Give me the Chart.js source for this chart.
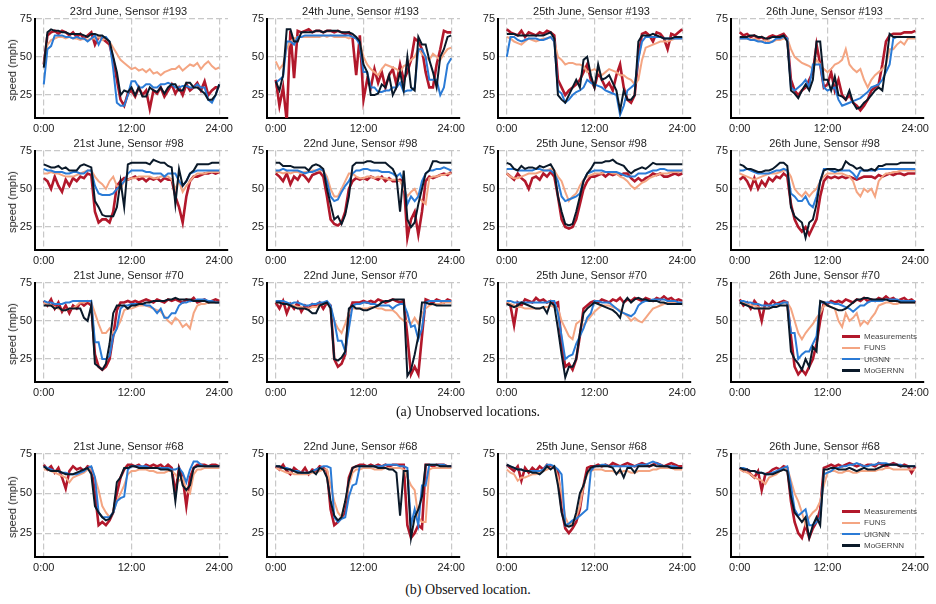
<!DOCTYPE html>
<html>
<head>
<meta charset="utf-8">
<script src="https://cdn.jsdelivr.net/npm/chart.js@4.4.1/dist/chart.umd.min.js"></script>
<style>
  body { margin: 0; background: #fff; width: 936px; height: 604px; position: relative; overflow: hidden;
         font-family: "Liberation Sans", Arial, sans-serif; }
  canvas { position: absolute; }
  .title { position: absolute; font-size: 11px; color: #222; white-space: nowrap; transform: translate(-50%, -50%); }
  .ylab { position: absolute; font-size: 11px; color: #222; white-space: nowrap; transform: translate(-50%, -50%) rotate(-90deg); }
  .caption { position: absolute; font-family: "Liberation Serif", "Times New Roman", serif; font-size: 14px; color: #111;
             white-space: nowrap; transform: translate(-50%, -50%); }
  .legend { position: absolute; font-size: 8px; color: #444; }
  .legend div { height: 11.3px; display: flex; align-items: center; }
  .legend .sw { display: inline-block; width: 18px; height: 2.5px; margin-right: 4px; }
</style>
</head>
<body>
<script>
// sample times, every 30 min
const hours = Array.from({ length: 49 }, (_, i) => i / 2);
const xTicks = [0, 12, 24];
const xTickLabels = ['0:00', '12:00', '24:00'];
const yTicks = [25, 50, 75];

const seriesNames = ['Measurements', 'FUNS', 'UIGNN', 'MoGERNN'];

const panelTitles = [
  '23rd June, Sensor #193', '24th June, Sensor #193', '25th June, Sensor #193', '26th June, Sensor #193',
  '21st June, Sensor #98', '22nd June, Sensor #98', '25th June, Sensor #98', '26th June, Sensor #98',
  '21st June, Sensor #70', '22nd June, Sensor #70', '25th June, Sensor #70', '26th June, Sensor #70',
  '21st June, Sensor #68', '22nd June, Sensor #68', '25th June, Sensor #68', '26th June, Sensor #68'
];

// ---- row 1: sensor #193 ----
const r1c1Meas = [45,64,66,67,65,67,66,64,66,63,65,62, 64,66,58,63,62,60,58,48,35,22,18,26, 28,24,30,25,28,16,28,26,30,24,28,32, 26,30,25,32,28,30,33,28,34,25,28,30,30];
const r1c1Funs = [45,58,61,62,63,63,62,63,62,62,61,62, 61,62,62,63,61,62,60,56,52,48,46,44, 42,43,41,42,40,42,39,40,38,40,41,42, 42,44,41,43,45,44,46,42,45,47,44,42,43];
const r1c1Uig = [32,55,57,64,64,64,63,63,62,63,62,62, 60,62,64,58,63,63,60,42,20,18,18,25, 34,34,30,30,32,32,30,30,32,32,33,32, 30,30,31,31,30,30,32,30,30,22,20,25,32];
const r1c1Mog = [43,66,68,67,67,66,66,65,65,65,65,64, 63,65,65,64,64,62,60,50,40,25,28,27, 30,25,30,24,24,30,28,27,30,26,30,32, 32,28,28,33,33,30,30,28,26,22,22,25,32];

const r1c2Meas = [35,18,30,8,67,36,67,66,67,68,66,67, 67,66,67,67,66,67,66,65,66,62,38,64, 22,35,30,42,33,40,30,38,42,32,45,35, 40,48,62,60,55,40,30,30,45,55,67,66,66];
const r1c2Funs = [47,42,45,55,60,62,63,63,63,63,63,63, 63,64,63,64,63,63,63,63,62,63,62,60, 50,45,42,40,38,42,45,44,43,42,40,44, 45,48,50,55,52,50,48,52,50,48,52,55,56];
const r1c2Uig = [33,35,37,60,60,58,63,63,64,64,64,64, 64,64,64,64,64,64,64,64,64,63,62,58, 40,40,30,30,27,27,28,28,30,30,33,27, 28,28,30,55,55,50,35,35,35,25,30,45,49];
const r1c2Mog = [34,28,38,68,68,60,60,66,66,66,66,67, 67,66,67,67,67,67,66,66,66,65,63,60, 45,40,25,25,26,32,30,38,25,30,40,28, 50,30,28,63,58,58,48,40,30,50,55,63,64];

const r1c3Meas = [68,66,65,64,67,63,66,65,64,66,65,67, 66,64,35,30,25,28,30,32,35,40,45,35, 30,40,35,30,33,28,38,45,30,22,20,25, 50,65,66,64,60,66,65,62,55,65,64,66,68];
const r1c3Funs = [63,62,60,59,58,60,62,61,60,61,62,62, 63,60,50,48,45,46,46,45,45,44,40,41, 42,40,38,40,42,41,40,38,38,36,35,32, 35,48,56,57,58,59,60,60,60,61,62,62,62];
const r1c3Uig = [50,63,63,61,60,61,62,62,62,61,61,62, 63,60,28,26,20,22,25,27,28,30,35,33, 32,31,30,28,27,26,25,12,18,28,30,32, 48,60,63,63,63,63,63,62,62,62,62,62,62];
const r1c3Mog = [65,65,65,64,64,64,64,64,64,64,64,65, 66,62,25,22,20,25,30,35,30,48,50,38, 30,45,35,36,38,33,28,15,28,22,22,25, 60,64,64,64,65,64,63,62,62,62,63,63,63];

const r1c4Meas = [66,64,65,63,64,62,63,61,63,64,63,64, 65,62,35,28,25,28,30,35,40,58,45,30, 32,40,28,35,25,22,25,20,18,15,18,22, 28,30,32,45,60,64,65,65,65,66,66,66,67];
const r1c4Funs = [62,62,62,61,62,61,60,61,60,60,61,61, 62,62,55,50,48,46,45,44,42,48,45,42, 40,42,45,46,48,55,45,42,40,42,35,30, 35,38,40,42,45,55,55,58,60,58,62,62,62];
const r1c4Uig = [62,62,62,61,61,60,60,59,59,60,62,62, 63,62,30,28,30,32,35,30,45,45,45,30, 28,29,30,22,18,19,20,21,22,23,25,27, 30,31,32,35,40,45,62,63,63,63,63,63,63];
const r1c4Mog = [63,63,63,64,64,63,63,62,62,63,63,63, 64,60,28,26,23,28,32,28,35,60,60,35, 35,28,37,25,24,22,28,20,16,17,20,22, 25,28,30,28,45,65,63,63,63,63,63,63,63];

// ---- row 2: sensor #98 ----
const r2c1Meas = [57,55,50,58,52,48,56,52,57,55,58,57, 60,59,35,28,30,30,28,35,52,55,57,56, 57,58,56,57,55,57,56,57,55,57,56,56, 45,38,28,45,55,58,58,59,60,60,61,60,61];
const r2c1Funs = [60,60,61,60,60,59,58,58,58,59,60,61, 62,62,58,55,53,50,55,58,52,50,55,56, 57,57,58,58,58,58,57,57,58,58,58,56, 50,55,48,52,55,58,60,60,60,61,61,61,61];
const r2c1Uig = [63,62,62,61,61,61,60,60,61,61,60,60, 62,62,52,47,46,46,46,47,50,52,55,60, 62,62,62,62,61,61,60,60,60,58,60,60, 60,55,52,55,60,61,62,62,62,62,62,62,62];
const r2c1Mog = [66,65,64,64,65,63,64,62,62,62,65,66, 65,64,42,38,33,32,32,32,38,55,38,66, 67,67,67,67,67,66,69,68,67,67,65,64, 40,63,52,55,60,62,66,66,66,66,67,67,67];

const r2c2Meas = [60,58,55,60,53,58,56,60,58,55,59,60, 61,58,45,30,27,26,28,35,50,55,57,56, 57,56,58,57,56,58,55,57,55,55,56,55, 18,30,35,20,35,55,58,57,58,59,60,59,61];
const r2c2Funs = [61,61,60,61,60,61,61,60,61,61,62,62, 62,62,58,50,45,45,50,55,60,60,58,57, 57,58,58,57,58,57,57,56,56,56,55,50, 45,48,50,45,42,40,57,58,58,59,59,60,60];
const r2c2Uig = [62,62,63,62,62,62,62,61,60,61,61,62, 63,62,55,45,42,43,48,52,55,60,62,62, 63,63,62,62,62,61,61,61,60,58,60,55, 40,45,42,45,55,60,62,62,63,63,64,63,62];
const r2c2Mog = [67,67,65,65,65,64,64,64,64,62,65,66, 65,63,50,40,30,32,27,33,45,65,67,67, 67,68,68,67,67,67,67,65,63,58,35,62, 30,25,28,40,50,60,62,68,68,67,67,67,67];

const r2c3Meas = [60,58,56,60,57,55,50,57,58,56,60,58, 61,58,45,30,25,24,25,30,40,50,55,58, 58,59,60,58,60,59,60,59,60,60,57,55, 57,55,57,58,60,59,60,58,58,59,60,59,60];
const r2c3Funs = [60,58,57,57,58,59,60,60,60,61,62,62, 63,62,58,55,48,42,45,47,52,56,58,59, 60,60,60,61,61,60,60,58,57,55,52,50, 52,54,55,57,58,59,60,60,60,61,61,61,62];
const r2c3Uig = [63,63,63,62,62,62,62,62,63,63,62,62, 62,60,55,45,42,43,44,45,47,55,60,61, 62,62,62,61,61,61,61,60,59,58,58,58, 60,60,60,61,62,62,63,63,62,62,62,62,62];
const r2c3Mog = [67,66,63,62,65,63,64,64,63,65,64,65, 66,62,45,35,27,26,27,35,45,55,60,63, 67,67,67,68,68,69,67,66,65,62,60,62, 63,64,63,65,67,66,66,66,66,66,66,66,66];

const r2c4Meas = [56,58,55,50,57,50,55,52,57,55,58,57, 60,58,40,30,25,22,25,20,25,30,45,55, 58,57,58,57,58,57,58,57,56,57,58,58, 58,57,59,58,59,60,59,60,60,59,60,60,60];
const r2c4Funs = [60,59,58,57,56,57,58,59,60,60,60,61, 62,62,58,50,47,45,48,45,48,50,55,58, 60,60,60,60,60,59,58,55,48,45,50,48, 50,45,55,58,60,60,61,61,62,62,62,62,62];
const r2c4Uig = [62,62,63,62,61,60,60,60,60,61,62,62, 63,62,47,45,42,42,45,40,38,45,55,63, 63,62,61,62,62,62,62,60,57,62,62,62, 62,62,63,63,63,63,63,63,63,63,63,63,63];
const r2c4Mog = [66,65,63,63,62,61,61,62,62,63,65,67, 67,65,38,32,30,28,18,28,30,40,55,62, 63,63,63,62,63,68,66,65,63,64,62,62, 63,62,65,65,66,66,66,66,67,67,67,67,67];

// ---- row 3: sensor #70 ----
const r3c1Meas = [63,60,64,58,62,56,60,55,60,58,62,60, 62,60,28,20,18,20,25,40,57,62,62,63, 62,63,62,63,64,63,62,64,63,62,64,63, 64,63,62,64,63,65,62,63,64,62,63,64,63];
const r3c1Funs = [62,61,60,59,58,57,57,58,58,60,62,62, 63,62,55,48,42,42,45,42,45,50,57,58, 58,59,60,60,60,59,58,57,56,53,50,48, 52,50,46,48,45,55,60,61,61,62,62,62,62];
const r3c1Uig = [63,62,62,61,61,61,62,62,63,63,63,63, 63,63,36,36,25,25,27,40,45,58,60,60, 61,61,61,61,60,60,58,55,58,52,52,55, 55,60,62,62,63,63,64,64,64,63,63,62,62];
const r3c1Mog = [60,60,60,58,59,57,57,58,58,58,58,52, 50,60,22,20,18,22,35,55,60,60,60,58, 60,60,61,61,62,62,63,63,63,63,64,64, 65,64,64,64,64,63,63,63,63,62,62,62,62];

const r3c2Meas = [62,58,63,55,61,58,62,56,60,58,61,60, 62,58,62,60,25,20,22,28,55,62,62,62, 63,62,63,62,64,63,62,63,64,63,62,63, 40,15,20,15,40,64,63,62,64,63,62,64,63];
const r3c2Funs = [62,62,61,61,60,60,59,59,58,58,59,59, 60,61,62,58,50,45,42,48,55,58,58,58, 58,58,59,59,58,58,57,57,57,55,52,50, 50,48,52,48,55,58,60,61,61,61,62,62,62];
const r3c2Uig = [63,63,63,62,61,62,62,61,60,60,61,61, 62,62,63,60,50,37,37,30,45,60,61,61, 62,62,61,61,60,60,60,60,58,60,61,61, 55,46,47,38,45,62,63,63,63,63,63,63,63];
const r3c2Mog = [62,62,61,61,60,59,58,58,58,57,55,55, 60,61,62,58,25,24,26,30,58,60,58,58, 57,57,58,59,60,62,63,63,64,64,64,64, 14,18,28,40,62,62,61,61,60,60,60,60,60];

const r3c3Meas = [62,60,47,62,60,64,63,62,65,63,64,62, 63,61,62,35,20,22,18,25,40,58,60,62, 63,62,64,63,62,64,63,65,62,64,63,65, 64,63,65,64,63,65,64,66,64,65,63,64,63];
const r3c3Funs = [62,61,60,59,59,58,58,58,58,58,59,59, 60,59,58,50,45,40,38,48,50,47,50,53, 56,58,60,60,60,59,58,57,55,53,50,52, 50,49,52,55,58,59,60,61,62,62,62,62,62];
const r3c3Uig = [63,63,62,62,62,62,62,62,62,62,62,62, 63,63,55,40,25,27,28,35,40,45,52,55, 63,63,62,62,62,60,58,56,55,54,53,55, 60,62,63,63,64,64,64,64,63,63,63,62,62];
const r3c3Mog = [61,60,59,60,62,61,60,59,58,58,59,55, 62,60,45,28,13,20,20,25,42,55,58,60, 62,61,60,59,58,57,55,52,62,65,62,64, 65,64,64,63,63,63,62,62,61,61,61,61,61];

const r3c4Meas = [64,60,62,58,63,60,50,62,60,63,61,62, 63,62,40,20,15,18,15,20,25,35,50,62, 61,63,62,63,62,64,63,62,64,63,65,63, 64,63,65,64,66,64,65,63,64,65,63,64,62];
const r3c4Funs = [62,62,61,60,60,59,58,58,58,59,60,61, 62,62,58,50,42,38,42,45,48,52,55,60, 60,59,58,50,46,55,50,52,55,47,50,48, 52,55,60,61,62,62,61,61,62,62,62,62,62];
const r3c4Uig = [63,63,62,62,61,61,60,60,60,60,61,61, 62,62,42,42,25,28,30,30,35,40,62,62, 62,62,61,61,60,59,58,56,58,60,60,62, 63,63,63,63,64,64,64,64,63,63,63,63,63];
const r3c4Mog = [62,61,60,59,58,58,58,58,58,59,59,60, 60,60,30,25,22,18,25,20,33,30,63,62, 60,59,58,57,57,58,60,62,64,64,65,65, 64,64,64,64,64,63,63,63,62,62,62,62,62];

// ---- row 4: sensor #68 (observed) ----
const r4c1Meas = [68,65,67,63,66,60,53,64,67,65,66,64, 67,66,50,30,32,30,33,38,50,60,65,68, 68,67,68,66,68,67,68,67,68,66,68,66, 50,66,60,42,60,66,68,68,68,67,68,68,67];
const r4c1Funs = [65,65,64,63,62,61,60,57,60,61,62,63, 65,66,60,52,42,38,35,38,45,50,55,62, 64,64,65,65,65,64,64,63,63,63,64,64, 62,58,60,52,50,62,65,65,66,66,66,66,66];
const r4c1Uig = [67,66,65,64,64,63,63,62,62,62,63,64, 66,67,60,38,35,35,35,38,45,47,48,65, 67,67,67,67,67,66,66,66,66,66,66,65, 65,66,63,57,65,70,70,68,67,67,67,67,67];
const r4c1Mog = [67,65,64,64,64,63,62,62,62,63,64,65, 66,62,42,38,35,33,34,38,57,60,66,66, 67,67,66,66,66,66,66,66,65,65,65,64, 45,65,55,52,55,66,67,67,67,67,67,67,67];

const r4c2Meas = [67,65,68,64,62,66,64,63,66,62,65,64, 67,66,64,40,30,32,35,38,60,66,67,68, 68,67,68,67,68,67,68,67,68,68,68,68, 30,22,25,30,28,68,68,67,68,68,68,67,67];
const r4c2Funs = [66,65,64,63,63,62,62,62,62,62,63,63, 64,65,65,55,45,38,35,45,55,63,65,65, 66,66,66,65,65,65,66,66,66,66,66,65, 60,55,52,35,32,32,65,66,66,66,66,66,66];
const r4c2Uig = [67,67,66,66,65,64,64,63,63,63,64,65, 66,67,67,66,35,32,34,35,48,55,56,67, 67,67,67,67,67,67,68,68,68,68,67,67, 66,30,40,30,55,55,68,68,68,68,68,67,67];
const r4c2Mog = [67,67,66,65,65,64,63,63,63,63,64,62, 66,65,60,45,36,33,35,45,58,66,67,67, 67,67,67,67,66,66,66,65,65,63,36,64, 64,22,35,40,48,68,68,68,68,67,67,67,67];

const r4c3Meas = [68,66,64,67,58,66,63,66,64,67,65,68, 67,66,64,40,28,25,28,32,40,55,66,67, 67,68,67,68,67,69,68,67,68,69,68,67, 68,69,68,67,68,69,68,67,68,69,68,67,67];
const r4c3Funs = [65,63,62,58,60,60,61,62,62,63,64,65, 66,67,60,50,35,30,32,35,42,55,62,64, 65,65,65,64,64,64,63,63,64,64,63,63, 64,64,64,64,65,65,66,66,66,66,65,65,65];
const r4c3Uig = [68,67,66,65,65,64,64,64,64,64,65,68, 68,67,65,62,30,31,33,34,36,38,40,64, 67,67,68,68,67,67,67,67,67,67,67,67, 68,68,68,69,70,69,68,67,67,67,67,66,66];
const r4c3Mog = [68,67,66,65,65,64,64,63,63,62,64,67, 65,67,55,38,30,29,30,38,50,55,63,66, 67,67,67,67,67,66,62,65,60,66,66,63, 67,67,67,67,68,67,67,67,67,66,66,66,66];

const r4c4Meas = [66,64,65,62,60,64,52,62,63,65,66,65, 67,66,45,32,25,22,30,22,28,32,40,66, 67,68,67,68,67,68,69,68,67,68,67,68, 68,67,69,68,67,68,69,68,67,68,67,63,67];
const r4c4Funs = [65,64,63,62,60,59,58,56,60,61,62,64, 65,66,58,50,45,38,30,35,38,40,45,55, 63,64,64,63,63,64,64,63,63,64,64,64, 64,64,65,65,66,66,65,65,65,65,65,65,65];
const r4c4Uig = [66,66,65,64,64,63,63,62,62,63,64,65, 66,67,55,40,36,38,40,30,30,32,35,62, 63,64,66,66,67,67,68,68,69,68,67,67, 68,68,69,69,69,68,68,68,68,67,67,67,67];
const r4c4Mog = [66,65,65,64,64,63,63,62,62,62,63,64, 65,64,48,38,35,32,35,22,30,35,30,65, 65,66,66,65,65,65,66,65,64,65,66,65, 65,65,66,67,68,68,68,68,67,67,67,67,67];

const panelSeries = [
  [r1c1Meas, r1c1Funs, r1c1Uig, r1c1Mog], [r1c2Meas, r1c2Funs, r1c2Uig, r1c2Mog],
  [r1c3Meas, r1c3Funs, r1c3Uig, r1c3Mog], [r1c4Meas, r1c4Funs, r1c4Uig, r1c4Mog],
  [r2c1Meas, r2c1Funs, r2c1Uig, r2c1Mog], [r2c2Meas, r2c2Funs, r2c2Uig, r2c2Mog],
  [r2c3Meas, r2c3Funs, r2c3Uig, r2c3Mog], [r2c4Meas, r2c4Funs, r2c4Uig, r2c4Mog],
  [r3c1Meas, r3c1Funs, r3c1Uig, r3c1Mog], [r3c2Meas, r3c2Funs, r3c2Uig, r3c2Mog],
  [r3c3Meas, r3c3Funs, r3c3Uig, r3c3Mog], [r3c4Meas, r3c4Funs, r3c4Uig, r3c4Mog],
  [r4c1Meas, r4c1Funs, r4c1Uig, r4c1Mog], [r4c2Meas, r4c2Funs, r4c2Uig, r4c2Mog],
  [r4c3Meas, r4c3Funs, r4c3Uig, r4c3Mog], [r4c4Meas, r4c4Funs, r4c4Uig, r4c4Mog]
];

// styles and layout
const seriesColors = ['#b2182b', '#f4a582', '#2b7bd6', '#0a1929'];
const seriesWidths = [2.6, 2, 2, 2];
const colLeft = [35, 267, 498, 731];   // x of the left spine
const rowTop = [17, 149, 281, 452];    // y of the 75 line
const rowHeight = [101, 101, 101, 105];
const plotWidth = 193;
const axisW = 34, padTop = 8, padRight = 14, axisH = 20;

Chart.defaults.font.family = '"Liberation Sans", Arial, sans-serif';
Chart.defaults.font.size = 11;
Chart.defaults.color = '#222';

function addText(cls, text, x, y) {
  const d = document.createElement('div');
  d.className = cls;
  d.textContent = text;
  d.style.left = x + 'px';
  d.style.top = y + 'px';
  document.body.appendChild(d);
}

function addLegend(x, y) {
  const box = document.createElement('div');
  box.className = 'legend';
  box.style.left = x + 'px';
  box.style.top = y + 'px';
  seriesNames.forEach((name, k) => {
    const row = document.createElement('div');
    row.innerHTML = '<span class="sw" style="background:' + seriesColors[k] + '"></span>' + name;
    box.appendChild(row);
  });
  document.body.appendChild(box);
}

const gridStyle = { color: '#c8c8c8', lineWidth: 1.2, drawTicks: false };
const borderStyle = { display: true, color: '#000', width: 2, dash: [6, 3] };

panelSeries.forEach((series, idx) => {
  const r = Math.floor(idx / 4), c = idx % 4;
  const canvas = document.createElement('canvas');
  canvas.width = axisW + plotWidth + padRight;
  canvas.height = padTop + rowHeight[r] + axisH;
  canvas.style.left = (colLeft[c] - axisW) + 'px';
  canvas.style.top = (rowTop[r] - padTop) + 'px';
  document.body.appendChild(canvas);

  new Chart(canvas, {
    type: 'line',
    data: {
      labels: hours,
      datasets: series.map((vals, k) => ({
        label: seriesNames[k],
        data: vals,
        borderColor: seriesColors[k],
        borderWidth: seriesWidths[k],
        pointRadius: 0,
        tension: 0,
        order: 4 - k
      }))
    },
    options: {
      responsive: false,
      animation: false,
      events: [],
      layout: { padding: { top: padTop, right: padRight, left: 0, bottom: 0 } },
      plugins: { legend: { display: false }, tooltip: { enabled: false } },
      scales: {
        x: {
          type: 'linear', min: -1.2, max: 25.2,
          afterBuildTicks: s => { s.ticks = xTicks.map(v => ({ value: v })); },
          afterFit: s => { s.height = axisH; },
          ticks: { callback: v => xTickLabels[xTicks.indexOf(v)], maxRotation: 0, autoSkip: false, padding: 4 },
          grid: gridStyle,
          border: borderStyle
        },
        y: {
          min: 10, max: 75,
          afterBuildTicks: s => { s.ticks = yTicks.map(v => ({ value: v })); },
          afterFit: s => { s.width = axisW; },
          ticks: { padding: 3 },
          grid: gridStyle,
          border: borderStyle
        }
      }
    }
  });

  addText('title', panelTitles[idx], colLeft[c] + plotWidth / 2 - 3, rowTop[r] - 6);
  if (c === 0) addText('ylab', 'speed (mph)', 12, rowTop[r] + rowHeight[r] / 2 + 2);
});

addLegend(842, 331);
addLegend(842, 506);
addText('caption', '(a) Unobserved locations.', 468, 412);
addText('caption', '(b) Observed location.', 468, 590);

panelSeries.forEach((s, i) => s.forEach((a, k) => {
  if (a.length !== hours.length) throw new Error('panel ' + i + ' series ' + k + ' has ' + a.length + ' values');
}));
</script>
</body>
</html>
